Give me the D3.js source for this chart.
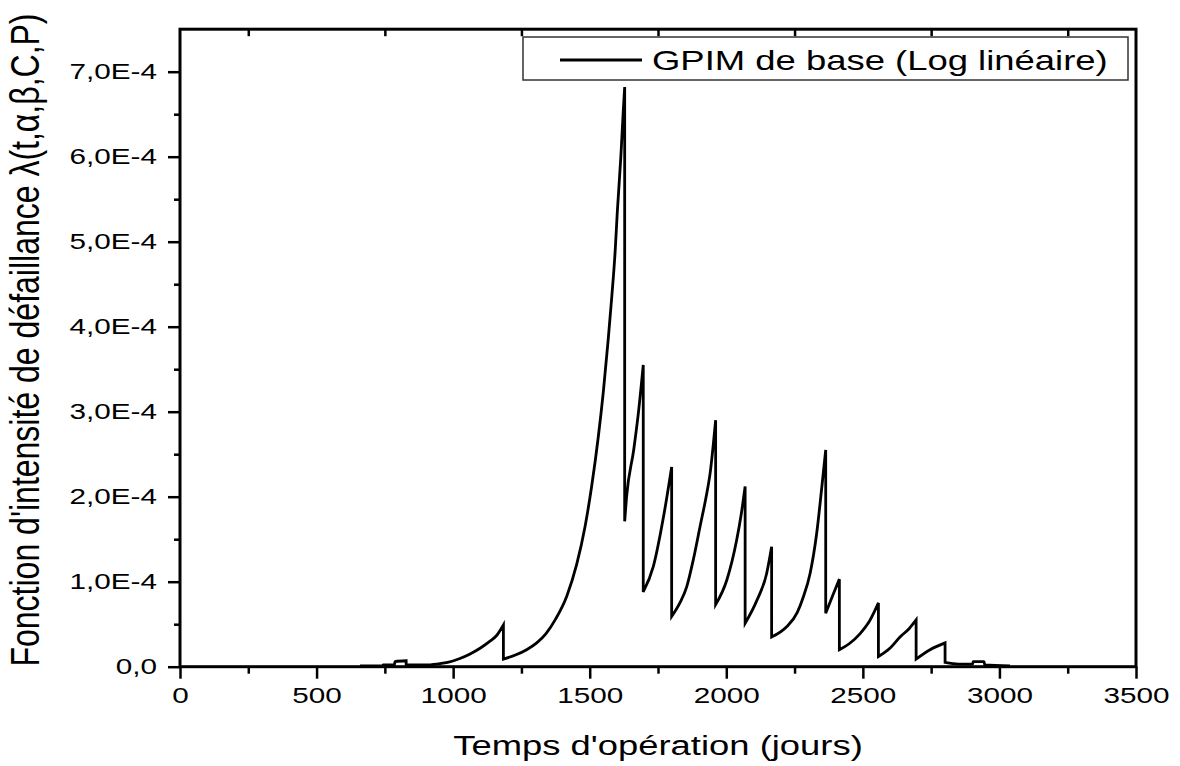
<!DOCTYPE html>
<html>
<head>
<meta charset="utf-8">
<script src="https://cdn.jsdelivr.net/npm/d3@7"></script>
<style>
body { margin: 0; background: #fff; }
text { font-family: "Liberation Sans", Arial, sans-serif; fill: #000; }
</style>
</head>
<body>
<svg width="1180" height="766"></svg>
<script>
// temps d'opération (jours)
var jours = [659, 742, 744, 785, 787, 828, 828, 900, 940, 980, 1020, 1062, 1100, 1135, 1160, 1184,
  1184, 1230, 1269, 1306, 1340, 1375, 1416, 1452, 1483, 1507, 1532, 1550, 1568, 1581, 1593, 1601, 1614, 1623, 1628,
  1628, 1635, 1661, 1678, 1696,
  1696, 1733, 1770, 1800,
  1800, 1830, 1855, 1880, 1904, 1925, 1941, 1961,
  1961, 2002, 2038, 2055, 2069,
  2069, 2112, 2148, 2166,
  2166, 2221, 2260, 2282, 2307, 2331, 2350, 2364,
  2364, 2390, 2414,
  2414, 2450, 2490, 2525, 2557,
  2557, 2600, 2636, 2670, 2695,
  2695, 2746, 2801,
  2801, 2850, 2902, 2904, 2944, 2946, 3039];
// intensité de défaillance, en unités de 1E-4
var intensite = [0.01, 0.01, 0.02, 0.02, 0.06, 0.07, 0.02, 0.02, 0.03, 0.05, 0.09, 0.15, 0.22, 0.30, 0.37, 0.49,
  0.09, 0.14, 0.20, 0.28, 0.39, 0.56, 0.83, 1.20, 1.65, 2.12, 2.72, 3.24, 3.86, 4.36, 4.88, 5.35, 6.00, 6.55, 6.82,
  1.71, 2.00, 2.55, 2.98, 3.55,
  0.88, 1.18, 1.76, 2.35,
  0.59, 0.75, 0.94, 1.27, 1.65, 1.98, 2.28, 2.90,
  0.73, 1.02, 1.49, 1.80, 2.12,
  0.51, 0.78, 1.10, 1.41,
  0.35, 0.47, 0.64, 0.82, 1.10, 1.57, 2.12, 2.55,
  0.63, 0.84, 1.03,
  0.20, 0.27, 0.39, 0.54, 0.75,
  0.12, 0.22, 0.35, 0.45, 0.55,
  0.09, 0.20, 0.28,
  0.05, 0.03, 0.03, 0.06, 0.06, 0.02, 0.01];

var xTicks = [0, 500, 1000, 1500, 2000, 2500, 3000, 3500];
var xMinor = [250, 750, 1250, 1750, 2250, 2750, 3250];
var yTicks = [0, 1, 2, 3, 4, 5, 6, 7];
var yMinor = [0.5, 1.5, 2.5, 3.5, 4.5, 5.5, 6.5];
var serieNom = "GPIM de base (Log linéaire)";

var svg = d3.select("svg");
var sx = 1.35; // the picture is stretched sideways, text too

var x = d3.scaleLinear().domain([0, 3500]).range([180, 1136]);
var y = d3.scaleLinear().domain([0, 7.5]).range([666.7, 29.2]);

function fmtY(d) {
  return d === 0 ? "0,0" : d.toFixed(1).replace(".", ",") + "E-4";
}

// bottom axis
var gx = svg.append("g").attr("transform", "translate(0," + y(0) + ")")
  .call(d3.axisBottom(x).tickValues(xTicks).tickSize(12).tickPadding(9).tickFormat(d3.format("d")));
gx.selectAll("text").style("font-size", "22px").attr("transform", "scale(" + sx + ",1)");
svg.append("g").attr("transform", "translate(0," + y(0) + ")")
  .call(d3.axisBottom(x).tickValues(xMinor).tickSize(7).tickFormat(""));

// top axis, ticks inside
svg.append("g").attr("transform", "translate(0," + y(7.5) + ")")
  .call(d3.axisTop(x).tickValues(xMinor).tickSize(-7).tickFormat(""));

// left axis
var gy = svg.append("g").attr("transform", "translate(" + x(0) + ",0)")
  .call(d3.axisLeft(y).tickValues(yTicks).tickSize(12).tickPadding(11).tickFormat(fmtY));
gy.selectAll("text").style("font-size", "22px")
  .attr("x", -23 / sx)
  .attr("transform", "scale(" + sx + ",1)");
svg.append("g").attr("transform", "translate(" + x(0) + ",0)")
  .call(d3.axisLeft(y).tickValues(yMinor).tickSize(6).tickFormat(""));

svg.selectAll(".domain").remove();
svg.selectAll(".tick line").attr("stroke", "#000").attr("stroke-width", 2.5);

// frame
svg.append("rect")
  .attr("x", x(0)).attr("y", y(7.5))
  .attr("width", x(3500) - x(0)).attr("height", y(0) - y(7.5))
  .attr("fill", "none").attr("stroke", "#000").attr("stroke-width", 3);

// curve: split at the jumps (same day twice), smooth each piece
var segs = [[]];
jours.forEach(function(d, i) {
  var cur = segs[segs.length - 1];
  if (cur.length && cur[cur.length - 1][0] === d) { segs.push([]); cur = segs[segs.length - 1]; }
  cur.push([d, intensite[i]]);
});
var line = d3.line()
  .x(function(d) { return x(d[0]); })
  .y(function(d) { return y(d[1]); })
  .curve(d3.curveMonotoneX);
var dPath = segs.map(function(s, k) {
  var p = line(s);
  return k === 0 ? p : "L" + p.slice(1);
}).join("");
svg.append("path")
  .attr("d", dPath)
  .attr("fill", "none")
  .attr("stroke", "#000")
  .attr("stroke-width", 2.8)
  .attr("stroke-linejoin", "miter");

// legend
var lg = svg.append("g");
lg.append("rect")
  .attr("x", 523).attr("y", 37).attr("width", 605).attr("height", 43)
  .attr("fill", "#fff").attr("stroke", "#333").attr("stroke-width", 1.5);
lg.append("line")
  .attr("x1", 560).attr("x2", 642).attr("y1", 60).attr("y2", 60)
  .attr("stroke", "#000").attr("stroke-width", 2.8);
lg.append("text")
  .attr("transform", "translate(652,70) scale(" + sx + ",1)")
  .style("font-size", "27px")
  .text(serieNom);

// axis titles
svg.append("text")
  .attr("transform", "translate(658,755) scale(1.3,1)")
  .attr("text-anchor", "middle")
  .style("font-size", "28px")
  .text("Temps d'opération (jours)");

svg.append("text")
  .attr("transform", "translate(39,340) rotate(-90) scale(1,1.25)")
  .attr("text-anchor", "middle")
  .style("font-size", "32px")
  .text("Fonction d'intensité de défaillance λ(t,α,β,C,P)");
</script>
</body>
</html>
